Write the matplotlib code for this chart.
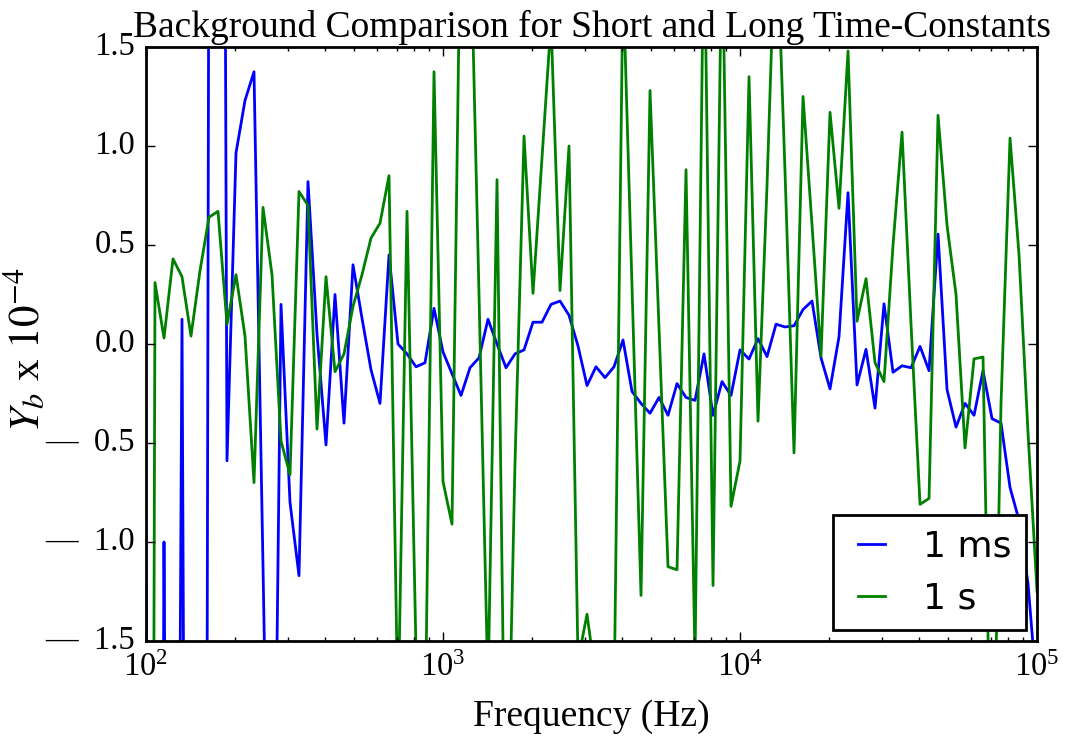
import matplotlib
matplotlib.use('Agg')
import matplotlib.pyplot as plt
import numpy as np

# frequency grid (log-spaced sweep, 100 points)
freq = np.logspace(2, 5, 100)

# background Y_b (x 1e-4), 1 ms time constant
yb_1ms = [-0.92, -12, -1.0, -8.4, 0.125, -10, -17.5, 2.5, 12, -0.59,
          0.965, 1.23, 1.375, -1.12, -3.7, 0.2, -0.80, -1.17, 0.82, 0.05,
          -0.51, 0.25, -0.40, 0.40, 0.13, -0.13, -0.30, 0.45, 0.0, -0.05,
          -0.115, -0.095, 0.18, -0.04, -0.15, -0.26, -0.12, -0.07, 0.125, 0.0,
          -0.12, -0.05, -0.03, 0.11, 0.11, 0.20, 0.217, 0.145, -0.01, -0.21,
          -0.115, -0.17, -0.115, 0.02, -0.24, -0.30, -0.35, -0.27, -0.36, -0.20,
          -0.27, -0.285, -0.05, -0.36, -0.19, -0.26, -0.03, -0.076, 0.027, -0.064,
          0.10, 0.086, 0.092, 0.174, 0.217, -0.07, -0.227, 0.037, 0.764, -0.207,
          -0.027, -0.324, 0.203, -0.143, -0.11, -0.12, -0.012, -0.135, 0.555, -0.23,
          -0.42, -0.30, -0.36, -0.135, -0.377, -0.40, -0.725, -0.89, -1.21, -1.77]

# background Y_b (x 1e-4), 1 s time constant
yb_1s = [-15, 0.31, 0.03, 0.43, 0.34, 0.04, 0.37, 0.64, 0.67, 0.10,
         0.35, 0.04, -0.70, 0.69, 0.35, -0.49, -0.66, 0.77, 0.70, -0.43,
         0.34, -0.14, -0.05, 0.19, 0.35, 0.535, 0.61, 0.85, -1.9, 0.67,
         -1.55, -2.0, 1.375, -0.695, -0.91, 2.35, 2.2, 0.25, -1.75, 0.83,
         -2.7, -0.6, 1.05, 0.256, 0.94, 1.63, 0.27, 1.0, -1.6, -1.365,
         -1.7, -2.0, -1.83, 1.85, 0.29, -1.27, 1.28, 0.08, -1.125, -1.14,
         0.88, -1.6, 2.2, -1.22, 2.12, -0.82, -0.59, 1.35, -0.39, 0.80,
         2.2, 0.87, -0.55, 1.25, 0.6, -0.06, 1.17, 0.685, 1.48, 0.115,
         0.33, -0.095, -0.19, 0.5, 1.07, 0.1, -0.81, -0.78, 1.155, 0.6,
         0.25, -0.525, -0.075, -0.066, -2.6, -0.3, 1.04, 0.45, -0.45, -1.25]

yticks = [-1.5, -1.0, -0.5, 0.0, 0.5, 1.0, 1.5]

plt.style.use('classic')
plt.rcParams['font.family'] = ['Liberation Serif', 'DejaVu Serif']
plt.rcParams['mathtext.fontset'] = 'stix'

fig = plt.figure(figsize=(10.68, 7.4), dpi=100)
ax = fig.add_axes([0.1367, 0.1338, 0.8343, 0.8027])

ax.semilogx(freq, yb_1ms, 'b', lw=2, label='1 ms')
ax.semilogx(freq, yb_1s, 'g', lw=2, label='1 s')

ax.set_xlim(1e2, 1e5)
ax.set_ylim(-1.5, 1.5)
ax.set_yticks(yticks)
# long minus sign, set a little apart from the number
ax.set_yticklabels([('\u2014  %.1f' % abs(v)) if v < 0 else '%.1f' % v for v in yticks])

ax.set_title('Background Comparison for Short and Long Time-Constants', fontsize=27, y=1.005)
ax.set_xlabel('Frequency (Hz)', fontsize=27, labelpad=12)
ax.set_ylabel(r'$Y_b$ x $10^{-4}$', fontsize=31)
ax.yaxis.set_label_coords(-0.11, 0.49)

ax.tick_params(which='major', length=6.5, width=1, labelsize=23.5, pad=8)
ax.tick_params(which='minor', length=3, width=1)
for sp in ax.spines.values():
    sp.set_linewidth(2)

leg = ax.legend(loc='lower right', prop={'family': 'DejaVu Sans', 'size': 26},
                handlelength=1.35, handletextpad=0.75, borderaxespad=0.3)
leg.get_frame().set_linewidth(2)

fig.savefig('out.png', dpi=100)
